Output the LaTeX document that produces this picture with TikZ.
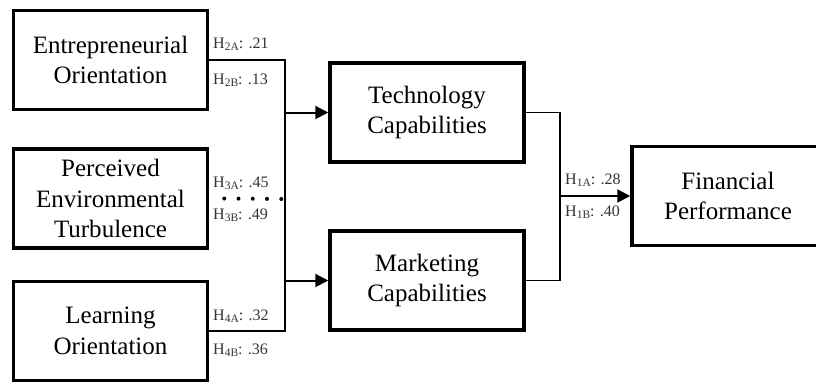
\documentclass[tikz,border=0pt]{standalone}
\usepackage{fontspec}
\setmainfont{Liberation Serif}
\usetikzlibrary{arrows.meta}

% subindice de las hipotesis
\newcommand{\hsub}[1]{\raisebox{-2pt}{\fontsize{11.5}{12}\selectfont #1}}

\begin{document}
\begin{tikzpicture}[x=1pt,y=-1pt,
  caja/.style={draw,line width=3.5pt,minimum width=194pt,minimum height=99pt,
    align=center,font=\fontsize{25}{30.5}\selectfont},
  hlab/.style={anchor=west,inner sep=0pt,text=black!80,font=\fontsize{16}{17}\selectfont},
  linea/.style={line width=1.2pt},
  flecha/.style={line width=2pt,-{Triangle[length=13pt,width=13pt]}},
  puntos/.style={line width=4pt,line cap=round,dash pattern=on 0pt off 14.25pt}]
\useasboundingbox (0,0) rectangle (816,383);

% Constructos de la izquierda
\node[caja] (eo) at (110.5,60) {Entrepreneurial\\Orientation};
\node[caja] (pet) at (110.5,198.5) {Perceived\\Environmental\\Turbulence};
\node[caja] (lo) at (110.5,331) {Learning\\Orientation};

% Capacidades
\node[caja] (tc) at (427,112.5) {Technology\\Capabilities};
\node[caja] (mc) at (427,280.5) {Marketing\\Capabilities};

% Resultado
\node[caja,minimum width=192pt] (fp) at (728,196) {Financial\\Performance};

% Puntos de union
\coordinate (bus) at (285,199);
\coordinate (bus2) at (560,196);

% Conectores
\draw[linea] (eo.east) -| (bus) |- (lo.east);
\draw[puntos] ([xshift=15pt]pet.east) -- (bus);
\draw[flecha] (bus |- tc.west) -- (tc.west);
\draw[flecha] (bus |- mc.west) -- (mc.west);
\draw[linea] (tc.east) -| (bus2) |- (mc.east);
\draw[flecha] (bus2) -- (fp.west);

% Coeficientes
\node[hlab] (h2a) at (213,44) {H\hsub{2A}: .21};
\node[hlab] (h2b) at (213,80) {H\hsub{2B}: .13};
\node[hlab] (h3a) at (213,183) {H\hsub{3A}: .45};
\node[hlab] (h3b) at (213,215) {H\hsub{3B}: .49};
\node[hlab] (h4a) at (213,316) {H\hsub{4A}: .32};
\node[hlab] (h4b) at (213,350) {H\hsub{4B}: .36};
\node[hlab] (h1a) at (565,180) {H\hsub{1A}: .28};
\node[hlab] (h1b) at (565,212) {H\hsub{1B}: .40};
\end{tikzpicture}
\end{document}
